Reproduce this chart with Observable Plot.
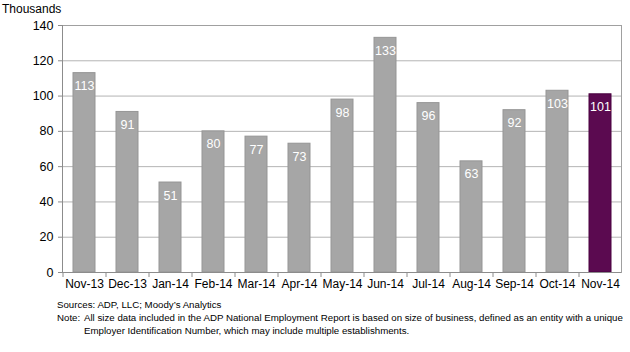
<!DOCTYPE html>
<html>
<head>
<meta charset="utf-8">
<script src="https://cdn.jsdelivr.net/npm/d3@7"></script>
<script src="https://cdn.jsdelivr.net/npm/@observablehq/plot@0.6"></script>
<style>
  html, body { margin: 0; padding: 0; background: #fff; }
  body { width: 630px; height: 352px; overflow: hidden; font-family: "Liberation Sans", Arial, sans-serif; color: #000; }
  #title { height: 18px; font-size: 12px; line-height: 18px; padding-left: 2px; }
  #chart svg { display: block; }
  #footer { padding-top: 4px; padding-left: 57px; font-size: 9.7px; line-height: 13px; white-space: nowrap; }
  #footer .lbl { display: inline-block; width: 27px; }
  #footer .indent { padding-left: 27px; }
</style>
</head>
<body>
<div id="title">Thousands</div>
<div id="chart"></div>
<div id="footer">
  <div>Sources: ADP, LLC; Moody’s Analytics</div>
  <div><span class="lbl">Note:</span>All size data included in the ADP National Employment Report is based on size of business, defined as an entity with a unique</div>
  <div class="indent">Employer Identification Number, which may include multiple establishments.</div>
</div>
<script>
const months = ["Nov-13","Dec-13","Jan-14","Feb-14","Mar-14","Apr-14","May-14","Jun-14","Jul-14","Aug-14","Sep-14","Oct-14","Nov-14"];
const values = [113, 91, 51, 80, 77, 73, 98, 133, 96, 63, 92, 103, 101];
const highlight = "Nov-14";
const yTicks = [0, 20, 40, 60, 80, 100, 120, 140];

const data = months.map((m, i) => ({month: m, value: values[i], hi: m === highlight}));

const chart = Plot.plot({
  width: 630,
  height: 276,
  marginTop: 7,
  marginBottom: 22,
  marginLeft: 62,
  marginRight: 9,
  style: {fontFamily: "Liberation Sans, Arial, sans-serif", color: "#000", background: "#fff"},
  x: {domain: months, paddingInner: 0.5, paddingOuter: 0.25, label: null},
  y: {domain: [0, 140], label: null},
  marks: [
    Plot.gridY(yTicks, {stroke: "#b4b4b4", strokeOpacity: 1}),
    Plot.frame({stroke: "#a0a0a0"}),
    Plot.frame({anchor: "left", stroke: "#8c8c8c"}),
    Plot.barY(data, {
      x: "month", y: "value",
      fill: d => d.hi ? "#5b0a50" : "#a6a6a6",
      stroke: d => d.hi ? "#4a0040" : "#959595",
      strokeWidth: 1
    }),
    Plot.ruleX(months, {x: d => d, y1: 0, y2: 0, dx: -21.5, insetBottom: -5, stroke: "#8c8c8c"}),
    Plot.ruleY([0], {stroke: "#8c8c8c"}),
    Plot.text(data, {
      x: "month", y: "value", text: d => String(d.value),
      dy: 13, fill: "white", fontSize: 12.5
    }),
    Plot.axisY(yTicks, {tickSize: 4, tickPadding: 5, fontSize: 12.5, stroke: "#8c8c8c", fill: "#000", label: null}),
    Plot.axisX({tickSize: 0, tickPadding: 7, fontSize: 12, fill: "#000", label: null})
  ]
});
document.getElementById("chart").appendChild(chart);
</script>
</body>
</html>
